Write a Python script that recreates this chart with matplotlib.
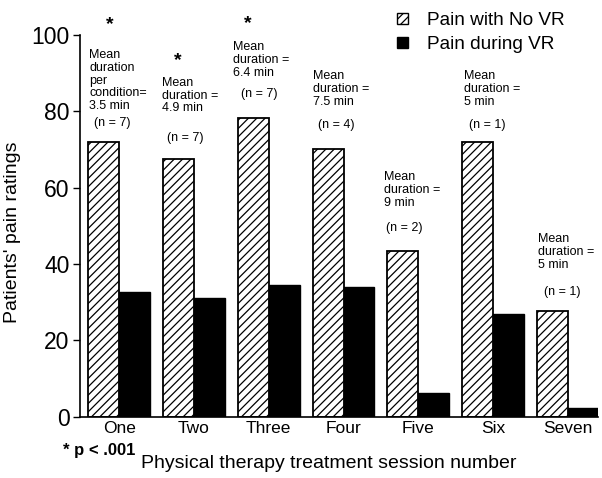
import matplotlib
matplotlib.use("Agg")
import matplotlib.pyplot as plt
from matplotlib.patches import Patch
import numpy as np

plt.rcParams['font.family'] = ['Liberation Sans', 'DejaVu Sans']
plt.rcParams['hatch.linewidth'] = 0.9

sessions = ["One", "Two", "Three", "Four", "Five", "Six", "Seven"]
pain_no_vr = [72.0, 67.6, 78.2, 70.1, 43.4, 72.0, 27.7]
pain_vr = [32.6, 31.2, 34.6, 34.0, 6.1, 26.9, 2.4]
duration_notes = [
    "Mean\nduration\nper\ncondition=\n3.5 min",
    "Mean\nduration =\n4.9 min",
    "Mean\nduration =\n6.4 min",
    "Mean\nduration =\n7.5 min",
    "Mean\nduration =\n9 min",
    "Mean\nduration =\n5 min",
    "Mean\nduration =\n5 min",
]
n_notes = ["(n = 7)", "(n = 7)", "(n = 7)", "(n = 4)", "(n = 2)", "(n = 1)", "(n = 1)"]
significant = [True, True, True, False, False, False, False]

# label placement (x offset from group centre, y in rating units)
note_xy = [(-0.40, 96.4), (0.576, 89.1), (1.527, 98.3), (2.598, 90.7),
           (3.536, 64.3), (4.607, 90.7), (5.598, 48.1)]
n_xy = [(-0.335, 77.0), (0.643, 73.0), (1.634, 84.5), (2.652, 76.4),
        (3.562, 49.5), (4.674, 76.4), (5.678, 32.6)]
star_xy = {0: (-0.13, 102.6), 1: (0.79, 93.3), 2: (1.714, 103.1)}

fig = plt.figure(figsize=(6.02, 4.78), dpi=100)
ax = fig.add_axes([80 / 602, 1 - 416.7 / 478, 518 / 602, (416.7 - 35) / 478])

x = np.arange(len(sessions))
w = 0.413
ax.bar(x - w / 2, pain_no_vr, width=w, facecolor="white", edgecolor="black",
       hatch="////", linewidth=1.3)
ax.bar(x + w / 2, pain_vr, width=w, facecolor="black", edgecolor="black",
       linewidth=1.0)

ax.set_xlim(-0.522, 6.40)
ax.set_ylim(0, 100)
ax.set_yticks([0, 20, 40, 60, 80, 100])
ax.set_xticks(x)
ax.set_xticklabels(sessions, fontsize=12.5)
ax.tick_params(axis="x", length=0, pad=3)
ax.tick_params(axis="y", labelsize=16.5, length=5, width=1, pad=2.5)
for s in ("top", "right"):
    ax.spines[s].set_visible(False)
ax.spines["left"].set_linewidth(1.2)
ax.spines["bottom"].set_linewidth(1.2)

ax.set_ylabel("Patients' pain ratings", fontsize=14)
ax.yaxis.set_label_coords(-0.114, 0.483)

for i in range(len(sessions)):
    ax.text(note_xy[i][0], note_xy[i][1], duration_notes[i], fontsize=9,
            va="top", ha="left", linespacing=1.1, clip_on=False)
    ax.text(n_xy[i][0], n_xy[i][1], n_notes[i], fontsize=9,
            va="center", ha="left", clip_on=False)
    if significant[i]:
        sx, sy = star_xy[i]
        ax.text(sx, sy, "*", fontsize=14, fontweight="bold", ha="center",
                va="center", clip_on=False)

fig.text(63 / 602, 1 - 451 / 478, "* p < .001", fontsize=12, fontweight="bold",
         ha="left", va="center")
fig.text(329 / 602, 1 - 464 / 478, "Physical therapy treatment session number",
         fontsize=14, ha="center", va="center")

handles = [Patch(facecolor="white", edgecolor="black", hatch="////", linewidth=1.0),
           Patch(facecolor="black", edgecolor="black")]
fig.legend(handles, ["Pain with No VR", "Pain during VR"], loc="upper left",
           bbox_to_anchor=(384 / 602, 1 + 1 / 478), frameon=False, fontsize=13.7,
           handlelength=0.55, handleheight=0.55, handletextpad=1.0,
           labelspacing=0.35, borderpad=0.2)

fig.savefig("out.png", dpi=100)
